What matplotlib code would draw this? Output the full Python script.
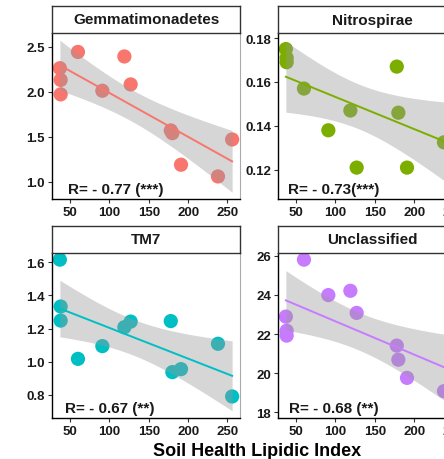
import matplotlib
matplotlib.use("Agg")
import matplotlib.pyplot as plt
import numpy as np

plt.rcParams['font.family'] = ['Liberation Sans', 'DejaVu Sans']
plt.rcParams['font.weight'] = 'bold'

# Soil Health Lipidic Index (same samples in every panel)
lipid_index = [37, 38, 38, 60, 91, 119, 127, 178, 180, 191, 238, 256]

# relative abundances
gemmatimonadetes = [2.26, 2.13, 1.97, 2.44, 2.01, 2.39, 2.08, 1.57, 1.54, 1.19, 1.06, 1.47]
nitrospirae = [0.175, 0.171, 0.169, 0.157, 0.138, 0.147, 0.121, 0.167, 0.146, 0.121, 0.1325, 0.142]
tm7 = [1.616, 1.333, 1.248, 1.017, 1.094, 1.208, 1.242, 1.245, 0.937, 0.955, 1.108, 0.79]
unclassified = [22.89, 22.17, 21.92, 25.8, 23.99, 24.21, 23.08, 21.41, 20.69, 19.76, 19.08, 20.8]

panel_names = ['Gemmatimonadetes', 'Nitrospirae', 'TM7', 'Unclassified']
panel_values = [gemmatimonadetes, nitrospirae, tm7, unclassified]
panel_labels = ['R= - 0.77 (***)', 'R= - 0.73(***)', 'R= - 0.67 (**)', 'R= - 0.68 (**)']
panel_colors = ['#F8766D', '#7CAE00', '#00BFC4', '#C77CFF']

y_limits = [(0.81, 2.65), (0.1067, 0.1823), (0.66, 1.656), (17.71, 26.14)]
y_ticks = [[1.0, 1.5, 2.0, 2.5], [0.12, 0.14, 0.16, 0.18], [0.8, 1.0, 1.2, 1.4, 1.6], [18, 20, 22, 24, 26]]
y_formats = ['{:.1f}', '{:.2f}', '{:.1f}', '{:.0f}']
x_ticks = [50, 100, 150, 200, 250]

T_CRIT = 2.228  # t(0.975, df=10)


def lm_band(x, y, xs):
  b1, b0 = np.polyfit(x, y, 1)
  n = len(x)
  resid = y - (b0 + b1 * x)
  s = np.sqrt(np.sum(resid ** 2) / (n - 2))
  sxx = np.sum((x - x.mean()) ** 2)
  se = s * np.sqrt(1.0 / n + (xs - x.mean()) ** 2 / sxx)
  yhat = b0 + b1 * xs
  return yhat, yhat - T_CRIT * se, yhat + T_CRIT * se


W, H = 444, 460
fig = plt.figure(figsize=(W / 100, H / 100), dpi=100)

# panel boxes in pixels: (left, top of strip, strip bottom, panel bottom)
col_left = [52, 278]
panel_w = 188
rows = [(7, 34, 200), (227, 254, 419)]
text_x = [0.083, 0.053, 0.069, 0.057]

x = np.array(lipid_index, dtype=float)
xs = np.linspace(x.min(), x.max(), 80)

for i in range(4):
  r, c = divmod(i, 2)
  strip_top, strip_bot, pan_bot = rows[r]
  left = col_left[c]
  ax = fig.add_axes([left / W, 1 - pan_bot / H, panel_w / W, (pan_bot - strip_bot) / H])
  y = np.array(panel_values[i], dtype=float)
  col = panel_colors[i]

  ax.scatter(x, y, s=105, color=col, edgecolors='none', zorder=2)
  yhat, lo, hi = lm_band(x, y, xs)
  ax.fill_between(xs, lo, hi, color='#999999', alpha=0.4, linewidth=0, zorder=3)
  ax.plot(xs, yhat, color=col, lw=1.4, zorder=4)

  ax.set_xlim(27, 266)
  ax.set_ylim(*y_limits[i])
  ax.set_xticks(x_ticks)
  ax.set_yticks(y_ticks[i])
  ax.set_yticklabels([y_formats[i].format(v) for v in y_ticks[i]])
  ax.tick_params(length=3, width=0.8, color='#333333', labelsize=9.5, pad=2, labelcolor='#1a1a1a')
  for side in ['left', 'bottom']:
    ax.spines[side].set_color('black')
    ax.spines[side].set_linewidth(1.0)
  ax.spines['right'].set_color('#aaaaaa')
  ax.spines['right'].set_linewidth(0.8)
  ax.spines['top'].set_visible(False)

  ax.text(text_x[i], 0.036, panel_labels[i], transform=ax.transAxes, fontsize=11,
          fontweight='bold', va='baseline', ha='left', color='#1a1a1a', zorder=5)

  # facet strip
  sax = fig.add_axes([left / W, 1 - strip_bot / H, panel_w / W, (strip_bot - strip_top) / H])
  sax.set_xticks([])
  sax.set_yticks([])
  sax.set_facecolor('white')
  for sp in sax.spines.values():
    sp.set_color('#333333')
    sp.set_linewidth(1.0)
  sax.text(0.5, 0.5, panel_names[i], transform=sax.transAxes, ha='center', va='center',
           fontsize=11, fontweight='bold', color='#1a1a1a')

fig.text(257 / W, 4 / H, 'Soil Health Lipidic Index', ha='center', va='baseline',
         fontsize=13, fontweight='bold', color='black')

fig.savefig('out.png', dpi=100)
